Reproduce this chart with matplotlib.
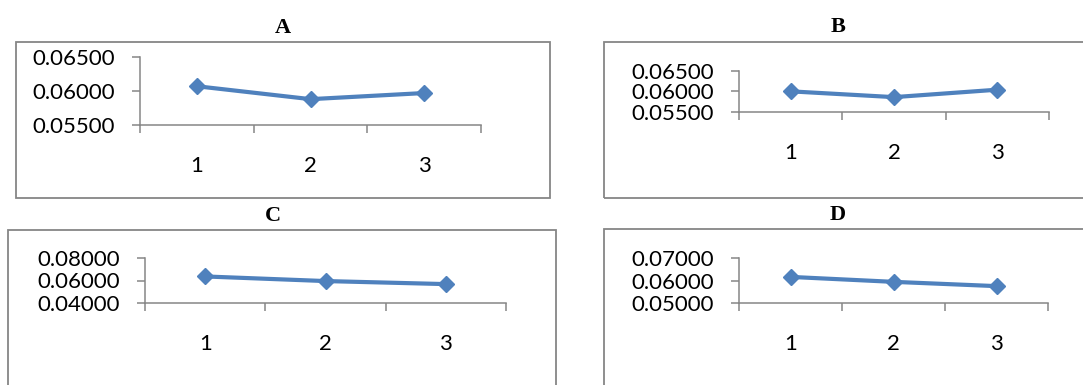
import matplotlib
matplotlib.use("Agg")
import matplotlib.pyplot as plt
from matplotlib.patches import Rectangle
from matplotlib.ticker import FixedLocator, FuncFormatter

categories = [1, 2, 3]
titles = ["A", "B", "C", "D"]
values_A = [0.0607, 0.0588, 0.0597]
values_B = [0.0600, 0.0586, 0.0604]
values_C = [0.0636, 0.0595, 0.0568]
values_D = [0.0616, 0.0594, 0.0575]
yticks_A = [0.055, 0.060, 0.065]
yticks_B = [0.055, 0.060, 0.065]
yticks_C = [0.04, 0.06, 0.08]
yticks_D = [0.05, 0.06, 0.07]

W, H = 1083, 385
fig = plt.figure(figsize=(W / 100, H / 100), dpi=100)

LINE = "#4F81BD"
GREY = "#868686"
TICKFONT = "Lato"


def fig_rect(x0, y0, x1, y1):
    # pixel coords (top-left origin) -> figure fraction rect
    return [x0 / W, 1 - y1 / H, (x1 - x0) / W, (y1 - y0) / H]


# chart boxes (pixel coords)
boxes = [(16, 42, 550, 198), (604, 42, 1090, 198), (8, 230, 556, 395), (604, 229, 1090, 395)]
for (x0, y0, x1, y1) in boxes:
    fig.patches.append(Rectangle((x0 / W, 1 - y1 / H), (x1 - x0) / W, (y1 - y0) / H,
                                 transform=fig.transFigure, fill=False,
                                 edgecolor=GREY, linewidth=1.3, clip_on=False))

panels = [
    (titles[0], values_A, yticks_A, (140, 57, 481, 125), (283, 28)),
    (titles[1], values_B, yticks_B, (739, 70.7, 1049, 112), (838, 27)),
    (titles[2], values_C, yticks_C, (145, 258, 506, 303), (273, 216)),
    (titles[3], values_D, yticks_D, (739, 258, 1048, 303), (838, 215)),
]

for title, vals, yt, (x0, y0, x1, y1), (tx, ty) in panels:
    ax = fig.add_axes(fig_rect(x0, y0, x1, y1))
    ax.plot(categories, vals, color=LINE, linewidth=3.0, marker="D",
            markersize=8, markerfacecolor=LINE, markeredgecolor=LINE, clip_on=False)
    ax.set_xlim(0.5, 3.5)
    ax.set_ylim(yt[0], yt[-1])
    ax.set_yticks(yt)
    ax.yaxis.set_major_formatter(FuncFormatter(lambda v, p: f"{v:.5f}"))
    ax.set_xticks(categories)
    ax.set_xticklabels([str(c) for c in categories])
    ax.xaxis.set_minor_locator(FixedLocator([0.5, 1.5, 2.5, 3.5]))
    ax.tick_params(axis="x", which="major", length=0, pad=22, labelsize=16)
    ax.tick_params(axis="x", which="minor", length=6, width=1.1, color=GREY, direction="out")
    ax.tick_params(axis="y", which="major", length=6, width=1.1, color=GREY,
                   pad=12, labelsize=16, direction="out")
    for lab in ax.get_xticklabels() + ax.get_yticklabels():
        lab.set_fontfamily(TICKFONT)
    for s in ("top", "right"):
        ax.spines[s].set_visible(False)
    for s in ("left", "bottom"):
        ax.spines[s].set_color(GREY)
        ax.spines[s].set_linewidth(1.1)
    ax.patch.set_alpha(0)
    fig.text(tx / W, 1 - ty / H, title, ha="center", va="center",
             fontfamily="Liberation Serif", fontweight="bold", fontsize=16)

fig.savefig("out.png", dpi=100)
